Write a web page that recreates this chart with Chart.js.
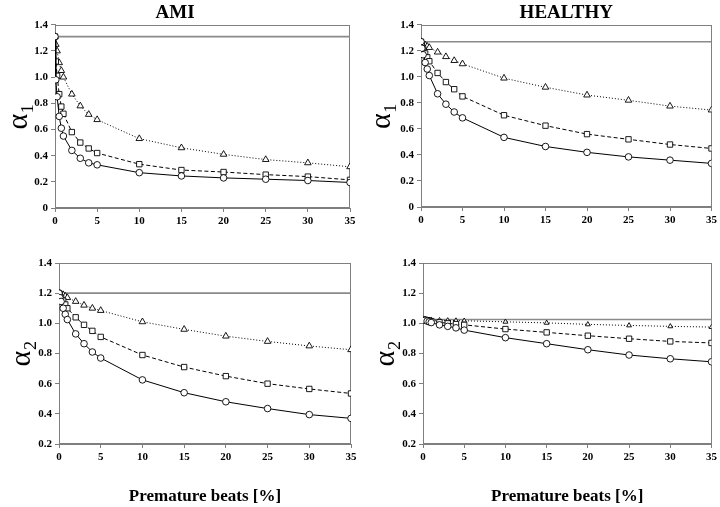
<!DOCTYPE html>
<html><head><meta charset="utf-8">
<script src="https://cdn.jsdelivr.net/npm/chart.js@4.4.0/dist/chart.umd.min.js"></script>
<style>
html,body{margin:0;padding:0;background:#fff;width:720px;height:507px;overflow:hidden}
.p{position:absolute}
</style></head><body>
<div class="p" style="left:0;top:0;width:360px;height:250px"><canvas id="c1"></canvas></div>
<div class="p" style="left:360px;top:0;width:360px;height:250px"><canvas id="c2"></canvas></div>
<div class="p" style="left:0;top:250px;width:360px;height:257px"><canvas id="c3"></canvas></div>
<div class="p" style="left:360px;top:250px;width:360px;height:257px"><canvas id="c4"></canvas></div>
<script>
// Premature beats [%]
const beats = [0, 0.1, 0.25, 0.5, 0.75, 1, 2, 3, 4, 5, 10, 15, 20, 25, 30, 35];
const xTicksStep = 5;

// AMI, alpha1
const amiA1Ref = 1.31;
const amiA1Circle   = [1.31, 0.98, 0.85, 0.70, 0.61, 0.55, 0.44, 0.38, 0.345, 0.33, 0.27, 0.245, 0.23, 0.22, 0.21, 0.195];
const amiA1Square   = [1.31, 1.12, 1.01, 0.87, 0.775, 0.72, 0.58, 0.50, 0.455, 0.42, 0.335, 0.29, 0.275, 0.255, 0.24, 0.215];
const amiA1Triangle = [1.31, 1.25, 1.20, 1.11, 1.05, 1.00, 0.87, 0.78, 0.715, 0.675, 0.53, 0.46, 0.41, 0.37, 0.345, 0.315];

// HEALTHY, alpha1
const healthyA1Ref = 1.27;
const healthyA1Circle   = [1.27, 1.22, 1.17, 1.11, 1.06, 1.01, 0.87, 0.79, 0.73, 0.685, 0.535, 0.465, 0.42, 0.385, 0.36, 0.335];
const healthyA1Square   = [1.27, 1.25, 1.22, 1.18, 1.15, 1.12, 1.03, 0.96, 0.905, 0.85, 0.705, 0.625, 0.56, 0.52, 0.48, 0.45];
const healthyA1Triangle = [1.27, 1.26, 1.255, 1.245, 1.235, 1.225, 1.19, 1.155, 1.125, 1.10, 0.99, 0.92, 0.86, 0.82, 0.775, 0.745];

// AMI, alpha2
const amiA2Ref = 1.20;
const amiA2Circle   = [1.20, 1.17, 1.145, 1.10, 1.06, 1.025, 0.93, 0.865, 0.81, 0.77, 0.625, 0.54, 0.48, 0.435, 0.395, 0.37];
const amiA2Square   = [1.20, 1.19, 1.17, 1.15, 1.125, 1.10, 1.04, 0.99, 0.95, 0.91, 0.79, 0.71, 0.65, 0.60, 0.565, 0.535];
const amiA2Triangle = [1.20, 1.20, 1.195, 1.19, 1.18, 1.17, 1.145, 1.12, 1.10, 1.085, 1.01, 0.96, 0.915, 0.88, 0.85, 0.825];

// HEALTHY, alpha2
const healthyA2Ref = 1.025;
const healthyA2Circle   = [1.025, 1.023, 1.02, 1.015, 1.01, 1.005, 0.99, 0.98, 0.97, 0.955, 0.905, 0.865, 0.825, 0.79, 0.765, 0.745];
const healthyA2Square   = [1.025, 1.024, 1.023, 1.02, 1.018, 1.015, 1.007, 1.00, 0.995, 0.99, 0.962, 0.94, 0.918, 0.898, 0.88, 0.87];
const healthyA2Triangle = [1.025, 1.025, 1.025, 1.024, 1.023, 1.022, 1.02, 1.019, 1.018, 1.017, 1.01, 1.003, 0.993, 0.986, 0.98, 0.975];

const SERIF = "'Liberation Serif', 'Times New Roman', serif";
const AXIS_GRAY = '#7f7f7f';

function zip(xs, ys) { return xs.map((x, i) => ({x: x, y: ys[i]})); }

const framePlugin = {
  id: 'frame',
  beforeDatasetsDraw(chart) {
    const a = chart.chartArea, ctx = chart.ctx;
    ctx.save();
    ctx.strokeStyle = AXIS_GRAY;
    ctx.lineWidth = 1;
    ctx.strokeRect(Math.round(a.left) + 0.5, Math.round(a.top) + 0.5,
                   Math.round(a.right - a.left) - 1, Math.round(a.bottom - a.top) - 1);
    ctx.restore();
  }
};

function makePanel(id, cfg) {
  const datasets = [
    {label: 'Reference', data: zip([0, 35], [cfg.ref, cfg.ref]), borderColor: '#8a8a8a', borderWidth: 1.6,
     pointRadius: 0, order: 5},
    {label: 'Triangle', data: zip(beats, cfg.tri), borderColor: '#000', borderWidth: 1, borderDash: [1, 2],
     pointStyle: 'triangle', pointRadius: cfg.triRadius || 3.8, pointBackgroundColor: '#fff',
     pointBorderColor: '#000', pointBorderWidth: 0.9, order: 3},
    {label: 'Square', data: zip(beats, cfg.sq), borderColor: '#000', borderWidth: 1, borderDash: [4, 2.5],
     pointStyle: 'rect', pointRadius: 3.8, pointBackgroundColor: '#fff',
     pointBorderColor: '#000', pointBorderWidth: 0.9, order: 2},
    {label: 'Circle', data: zip(beats, cfg.circ), borderColor: '#000', borderWidth: 1,
     pointStyle: 'circle', pointRadius: 3.3, pointBackgroundColor: '#fff',
     pointBorderColor: '#000', pointBorderWidth: 0.9, order: 1}
  ];
  const tickFont = {family: SERIF, size: 11, weight: 'bold'};
  new Chart(document.getElementById(id), {
    type: 'line',
    data: {datasets: datasets},
    plugins: [framePlugin],
    options: {
      responsive: true, maintainAspectRatio: false, animation: false,
      layout: {padding: {top: cfg.padTop, right: cfg.padRight, left: 0, bottom: 0}},
      elements: {line: {tension: 0}},
      plugins: {
        legend: {display: false}, tooltip: {enabled: false},
        title: {display: !!cfg.title, text: cfg.title || '', fullSize: cfg.titleFull,
                font: {family: SERIF, size: 19, weight: 'bold'}, color: '#000',
                padding: {top: 2, bottom: 0}}
      },
      scales: {
        x: {type: 'linear', min: 0, max: 35,
            ticks: {stepSize: xTicksStep, font: tickFont, color: '#000', padding: 3, maxRotation: 0},
            grid: {drawOnChartArea: false, tickLength: 4, color: AXIS_GRAY},
            border: {color: AXIS_GRAY},
            title: {display: !!cfg.xTitle, text: cfg.xTitle || '', color: '#000',
                    font: {family: SERIF, size: 17, weight: 'bold'}, padding: {top: 0, bottom: 0}},
            afterFit(s) { s.height = cfg.xHeight; }},
        y: {min: cfg.yMin, max: 1.4,
            ticks: {stepSize: 0.2, font: tickFont, color: '#000', padding: 3},
            grid: {drawOnChartArea: false, tickLength: 4, color: AXIS_GRAY},
            border: {color: AXIS_GRAY},
            title: {display: true, text: cfg.yTitle, color: '#000',
                    font: {family: SERIF, size: 30}, padding: {top: cfg.yTitlePad, bottom: 0}},
            afterFit(s) { s.width = cfg.yWidth; }}
      }
    }
  });
}

makePanel('c1', {title: 'AMI', titleFull: true, ref: amiA1Ref, circ: amiA1Circle, sq: amiA1Square, tri: amiA1Triangle,
  yMin: 0, yTitle: 'α₁', padTop: 0, padRight: 10, xHeight: 42, yWidth: 55, yTitlePad: 1});
makePanel('c2', {title: 'HEALTHY', titleFull: false, ref: healthyA1Ref, circ: healthyA1Circle, sq: healthyA1Square, tri: healthyA1Triangle,
  yMin: 0, yTitle: 'α₁', padTop: 0, padRight: 8, xHeight: 43, yWidth: 61, yTitlePad: 4});
makePanel('c3', {ref: amiA2Ref, circ: amiA2Circle, sq: amiA2Square, tri: amiA2Triangle, xTitle: 'Premature beats [%]',
  yMin: 0.2, yTitle: 'α₂', padTop: 13, padRight: 9, xHeight: 63, yWidth: 59, yTitlePad: 4});
makePanel('c4', {ref: healthyA2Ref, circ: healthyA2Circle, sq: healthyA2Square, tri: healthyA2Triangle, xTitle: 'Premature beats [%]',
  yMin: 0.2, yTitle: 'α₂', padTop: 13, padRight: 6, xHeight: 63, yWidth: 63, yTitlePad: 8, triRadius: 2.8});
</script>
</body></html>
